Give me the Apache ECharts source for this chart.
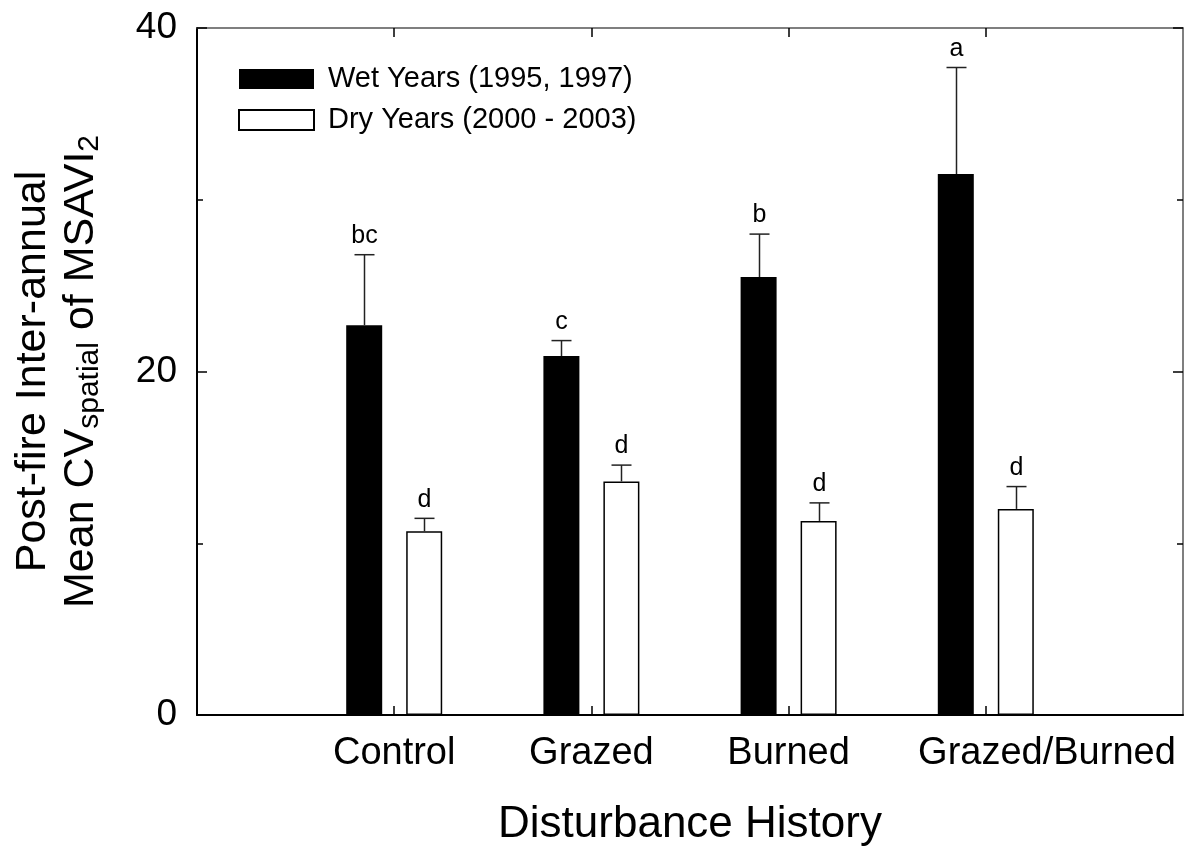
<!DOCTYPE html>
<html>
<head>
<meta charset="utf-8">
<script src="https://cdn.jsdelivr.net/npm/echarts@6/dist/echarts.min.js"></script>
<style>
html,body{margin:0;padding:0;background:#fff;}
#chart{width:1186px;height:852px;}
</style>
</head>
<body>
<div id="chart"></div>
<script>
// ---- data ----
const categories = ['Control', 'Grazed', 'Burned', 'Grazed/Burned'];
const groupPositions = [1, 2, 3, 4];
const labelPositions = [1, 2, 3, 4.31];
const wetMeans = [22.7, 20.9, 25.5, 31.5];
const wetErrors = [4.1, 0.9, 2.5, 6.2];
const dryMeans = [10.7, 13.6, 11.3, 12.0];
const dryErrors = [0.75, 0.95, 1.05, 1.3];
const wetLetters = ['bc', 'c', 'b', 'a'];
const dryLetters = ['d', 'd', 'd', 'd'];
const seriesNames = ['Wet Years (1995, 1997)', 'Dry Years (2000 - 2003)'];
const yTicks = [0, 20, 40];

const FONT = 'Liberation Sans, Arial, sans-serif';
const BAR_W = 36;
const GAP = 24;
const OFFSET = (BAR_W + GAP) / 2;

const chart = echarts.init(document.getElementById('chart'));

function errSeries(means, errs, letters, sign) {
  return {
    type: 'custom',
    xAxisIndex: 0,
    yAxisIndex: 0,
    clip: false,
    silent: true,
    z: 5,
    data: groupPositions.map((x, i) => [x, means[i], errs[i]]),
    renderItem: function (params, api) {
      const i = params.dataIndex;
      const x = api.value(0), m = api.value(1), e = api.value(2);
      const base = api.coord([x, m]);
      const top = api.coord([x, m + e]);
      const px = Math.round(base[0] + sign * OFFSET) + 0.5;
      return {
        type: 'group',
        children: [
          { type: 'line', shape: { x1: px, y1: base[1], x2: px, y2: top[1] },
            style: { stroke: '#222', lineWidth: 1.5 } },
          { type: 'line', shape: { x1: px - 10, y1: top[1], x2: px + 10, y2: top[1] },
            style: { stroke: '#222', lineWidth: 1.5 } },
          { type: 'text', x: px, y: top[1] - 6,
            style: { text: letters[i], font: '25px ' + FONT, fill: '#000',
              align: 'center', verticalAlign: 'bottom' } }
        ]
      };
    }
  };
}

const option = {
  animation: false,
  backgroundColor: '#fff',
  grid: { left: 197, right: 3, top: 28, bottom: 135, containLabel: false },
  legend: {
    orient: 'vertical',
    left: 233,
    top: 59,
    itemWidth: 75,
    itemHeight: 20,
    itemGap: 11,
    icon: 'rect',
    data: seriesNames,
    textStyle: { fontFamily: FONT, fontSize: 29, color: '#000', lineHeight: 30, padding: [0, 0, 0, 9] }
  },
  xAxis: [
    {
      type: 'value', min: 0, max: 5, interval: 1, position: 'bottom',
      axisLine: { show: true, onZero: false, lineStyle: { color: '#000', width: 2 } },
      axisTick: { show: true, inside: true, length: 9, customValues: groupPositions, lineStyle: { color: '#000', width: 1.5 } },
      axisLabel: {
        show: true, customValues: labelPositions, margin: 20,
        fontFamily: FONT, fontSize: 38, color: '#000',
        formatter: function (v) {
          const idx = labelPositions.indexOf(v);
          return idx >= 0 ? categories[idx] : '';
        }
      },
      splitLine: { show: false },
      name: 'Disturbance History', nameLocation: 'middle', nameGap: 88,
      nameTextStyle: { fontFamily: FONT, fontSize: 44, color: '#000' }
    },
    {
      type: 'value', min: 0, max: 5, interval: 1, position: 'top',
      axisLine: { show: true, onZero: false, lineStyle: { color: '#555', width: 1.5 } },
      axisTick: { show: true, inside: true, length: 9, customValues: groupPositions, lineStyle: { color: '#000', width: 1.5 } },
      axisLabel: { show: false },
      splitLine: { show: false }
    }
  ],
  yAxis: [
    {
      type: 'value', min: 0, max: 40, interval: 20, position: 'left',
      axisLine: { show: true, onZero: false, lineStyle: { color: '#000', width: 2 } },
      axisTick: { show: true, inside: true, length: 10, lineStyle: { color: '#000', width: 1.5 } },
      minorTick: { show: true, splitNumber: 2, length: 6, lineStyle: { color: '#000', width: 1.5 } },
      axisLabel: { show: true, margin: 20, fontFamily: FONT, fontSize: 37, color: '#000',
        formatter: function (v) { return yTicks.indexOf(v) >= 0 ? String(v) : ''; } },
      splitLine: { show: false },
      name: 'Post-fire Inter-annual\nMean CV{sub|spatial} of MSAVI{sub|2}',
      nameLocation: 'middle', nameGap: 92, nameRotate: 90,
      nameTextStyle: {
        fontFamily: FONT, fontSize: 43, color: '#000', lineHeight: 48, align: 'center',
        rich: { sub: { fontFamily: FONT, fontSize: 30, color: '#000', verticalAlign: 'bottom', lineHeight: 30, padding: [8, 0, 0, 0] } }
      }
    },
    {
      type: 'value', min: 0, max: 40, interval: 20, position: 'right',
      axisLine: { show: true, onZero: false, lineStyle: { color: '#555', width: 1.5 } },
      axisTick: { show: true, inside: true, length: 10, lineStyle: { color: '#000', width: 1.5 } },
      minorTick: { show: true, splitNumber: 2, length: 6, lineStyle: { color: '#000', width: 1.5 } },
      axisLabel: { show: false },
      splitLine: { show: false }
    }
  ],
  series: [
    {
      name: seriesNames[0], type: 'bar', xAxisIndex: 0, yAxisIndex: 0,
      barWidth: BAR_W, barGap: (GAP / BAR_W * 100) + '%',
      itemStyle: { color: '#000' },
      data: groupPositions.map((x, i) => [x, wetMeans[i]])
    },
    {
      name: seriesNames[1], type: 'bar', xAxisIndex: 0, yAxisIndex: 0,
      barWidth: BAR_W, barGap: (GAP / BAR_W * 100) + '%',
      itemStyle: { color: '#fff', borderColor: '#000', borderWidth: 1.5 },
      data: groupPositions.map((x, i) => [x, dryMeans[i]])
    },
    errSeries(wetMeans, wetErrors, wetLetters, -1),
    errSeries(dryMeans, dryErrors, dryLetters, 1)
  ]
};
chart.setOption(option);
</script>
</body>
</html>
